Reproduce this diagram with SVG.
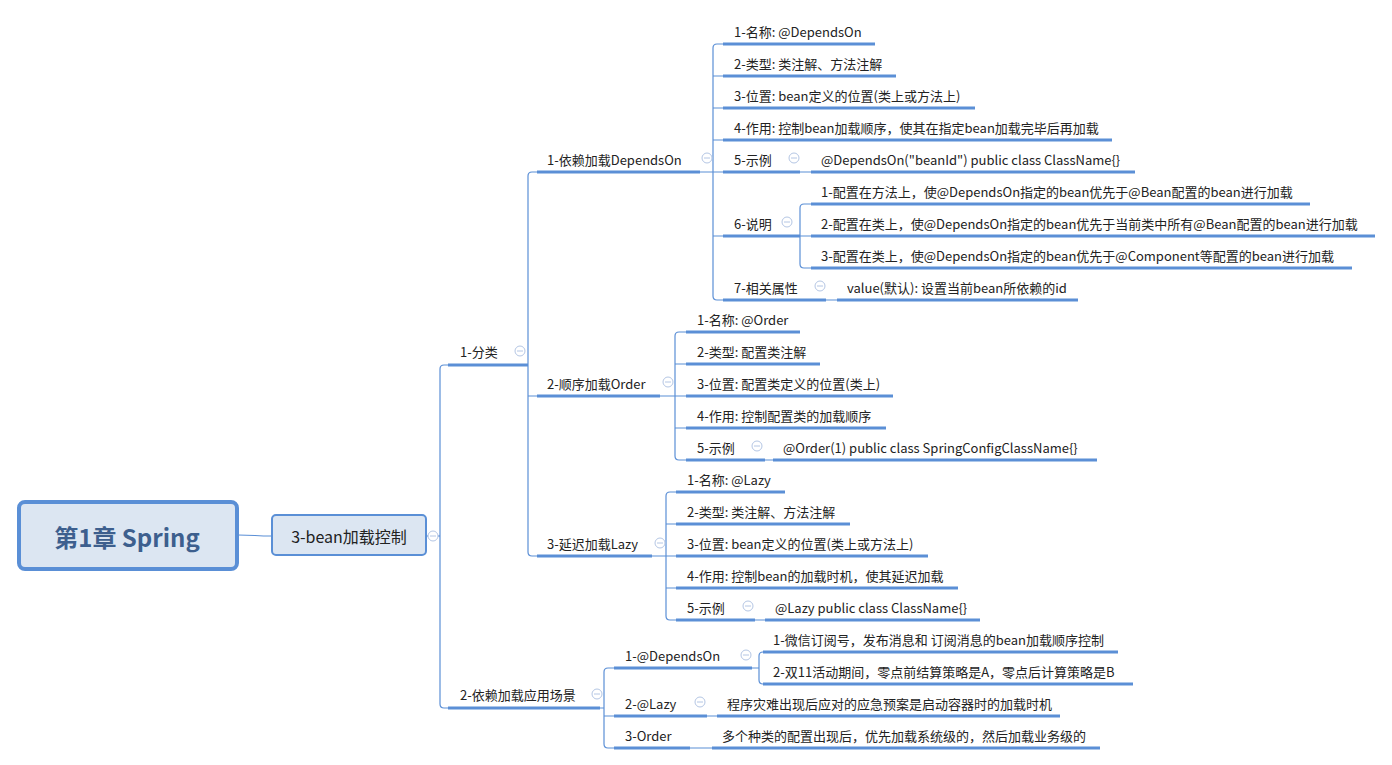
<svg xmlns="http://www.w3.org/2000/svg" width="1392" height="765" viewBox="0 0 1392 765">
<style>
text{font-family:"Microsoft YaHei","Noto Sans CJK SC","Noto Sans",sans-serif;font-size:13px;fill:#222;dominant-baseline:central}
.ul{stroke:#5b8fd6;stroke-width:3;fill:none}
.c{stroke:#5b8fd6;stroke-width:1.2;fill:none}
.col circle{fill:#fff;stroke:#b4c6e4;stroke-width:1}
.col path{stroke:#b4c6e4;stroke-width:1}
</style>
<rect width="1392" height="765" fill="#fff"/>
<g id="connectors" class="c">
<path d="M238,535 C255,535 255,536 272,536"/>
<path d="M426,536 H440"/>
<path d="M440,536 V369 Q440,365 444,365 H448 M440,536 V704 Q440,708 444,708 H448"/>
<path d="M528,365 V176 Q528,172 532,172 H537 M528,365 V396 H537 M528,365 V552 Q528,556 532,556 H537"/>
<path d="M700,172 H713 M713,172 V48 Q713,44 717,44 H723 M713,172 V76 H723 M713,172 V108 H723 M713,172 V140 H723 M713,172 H723 M713,172 V236 H723 M713,172 V296 Q713,300 717,300 H723"/>
<path d="M800,172 H811 M826,300 H837"/>
<path d="M800,236 V208 Q800,204 804,204 H811 M800,236 H811 M800,236 V264 Q800,268 804,268 H811"/>
<path d="M660,396 H675 M675,396 V336 Q675,332 679,332 H686 M675,396 V364 H686 M675,396 H686 M675,396 V428 H686 M675,396 V456 Q675,460 679,460 H686 M765,460 H773"/>
<path d="M652,556 H666 M666,556 V496 Q666,492 670,492 H676 M666,556 V524 H676 M666,556 H676 M666,556 V588 H676 M666,556 V616 Q666,620 670,620 H676 M755,620 H765"/>
<path d="M600,708 H604 M604,708 V672 Q604,668 608,668 H614 M604,708 V716 H614 M604,708 V744 Q604,748 608,748 H614"/>
<path d="M752,668 H759 M759,668 V656 Q759,652 763,652 H763 M759,668 V680 Q759,684 763,684"/>
<path d="M707,716 H717 M690,748 H712"/>
</g>
<g id="root"><rect x="19" y="502" width="218" height="67" rx="6" fill="#dce6f2" stroke="#5a8fd6" stroke-width="4"/><text x="127" y="536" text-anchor="middle" style="font-size:24px;font-weight:bold;fill:#3d5f8e">第1章 Spring</text></g>
<g id="n-main"><rect x="272" y="515" width="154" height="40" rx="4" fill="#dce6f2" stroke="#5a8fd6" stroke-width="2"/><text x="349" y="536" text-anchor="middle" style="font-size:16px">3-bean加载控制</text></g>
<g class="col">
<g><circle cx="433" cy="536" r="5"/><path d="M430,536 H436"/></g>
<g><circle cx="520" cy="351" r="5"/><path d="M517,351 H523"/></g>
<g><circle cx="597" cy="694" r="5"/><path d="M594,694 H600"/></g>
<g><circle cx="707" cy="158" r="5"/><path d="M704,158 H710"/></g>
<g><circle cx="668" cy="382" r="5"/><path d="M665,382 H671"/></g>
<g><circle cx="660" cy="543" r="5"/><path d="M657,543 H663"/></g>
<g><circle cx="794" cy="158" r="5"/><path d="M791,158 H797"/></g>
<g><circle cx="787" cy="222" r="5"/><path d="M784,222 H790"/></g>
<g><circle cx="820" cy="286" r="5"/><path d="M817,286 H823"/></g>
<g><circle cx="757" cy="446" r="5"/><path d="M754,446 H760"/></g>
<g><circle cx="748" cy="606" r="5"/><path d="M745,606 H751"/></g>
<g><circle cx="746" cy="655" r="5"/><path d="M743,655 H749"/></g>
<g><circle cx="700" cy="702" r="5"/><path d="M697,702 H703"/></g>
</g>
<g id="n-fenlei"><path class="ul" d="M448,365 H528"/><text x="460" y="351">1-分类</text></g>
<g id="n-changjing"><path class="ul" d="M448,708 H600"/><text x="460" y="694">2-依赖加载应用场景</text></g>
<g id="n-dep"><path class="ul" d="M537,172 H700"/><text x="547" y="159">1-依赖加载DependsOn</text></g>
<g id="n-order"><path class="ul" d="M537,396 H660"/><text x="547" y="383">2-顺序加载Order</text></g>
<g id="n-lazy"><path class="ul" d="M537,556 H652"/><text x="547" y="543">3-延迟加载Lazy</text></g>
<g id="d1"><path class="ul" d="M723,44 H875"/><text x="734" y="31">1-名称: @DependsOn</text></g>
<g id="d2"><path class="ul" d="M723,76 H896"/><text x="734" y="63">2-类型: 类注解、方法注解</text></g>
<g id="d3"><path class="ul" d="M723,108 H975"/><text x="734" y="95">3-位置: bean定义的位置(类上或方法上)</text></g>
<g id="d4"><path class="ul" d="M723,140 H1112"/><text x="734" y="127">4-作用: 控制bean加载顺序，使其在指定bean加载完毕后再加载</text></g>
<g id="d5"><path class="ul" d="M723,172 H800"/><text x="734" y="159">5-示例</text></g>
<g id="d5a"><path class="ul" d="M811,172 H1135"/><text x="821" y="159">@DependsOn("beanId") public class ClassName{}</text></g>
<g id="d6"><path class="ul" d="M723,236 H800"/><text x="734" y="223">6-说明</text></g>
<g id="d6a"><path class="ul" d="M811,204 H1310"/><text x="821" y="191">1-配置在方法上，使@DependsOn指定的bean优先于@Bean配置的bean进行加载</text></g>
<g id="d6b"><path class="ul" d="M811,236 H1375"/><text x="821" y="223">2-配置在类上，使@DependsOn指定的bean优先于当前类中所有@Bean配置的bean进行加载</text></g>
<g id="d6c"><path class="ul" d="M811,268 H1352"/><text x="821" y="255">3-配置在类上，使@DependsOn指定的bean优先于@Component等配置的bean进行加载</text></g>
<g id="d7"><path class="ul" d="M723,300 H826"/><text x="734" y="287">7-相关属性</text></g>
<g id="d7a"><path class="ul" d="M837,300 H1078"/><text x="847" y="287">value(默认): 设置当前bean所依赖的id</text></g>
<g id="o1"><path class="ul" d="M686,332 H800"/><text x="697" y="319">1-名称: @Order</text></g>
<g id="o2"><path class="ul" d="M686,364 H820"/><text x="697" y="351">2-类型: 配置类注解</text></g>
<g id="o3"><path class="ul" d="M686,396 H893"/><text x="697" y="383">3-位置: 配置类定义的位置(类上)</text></g>
<g id="o4"><path class="ul" d="M686,428 H886"/><text x="697" y="415">4-作用: 控制配置类的加载顺序</text></g>
<g id="o5"><path class="ul" d="M686,460 H765"/><text x="697" y="447">5-示例</text></g>
<g id="o5a"><path class="ul" d="M773,460 H1097"/><text x="783" y="447">@Order(1) public class SpringConfigClassName{}</text></g>
<g id="l1"><path class="ul" d="M676,492 H785"/><text x="687" y="479">1-名称: @Lazy</text></g>
<g id="l2"><path class="ul" d="M676,524 H850"/><text x="687" y="511">2-类型: 类注解、方法注解</text></g>
<g id="l3"><path class="ul" d="M676,556 H928"/><text x="687" y="543">3-位置: bean定义的位置(类上或方法上)</text></g>
<g id="l4"><path class="ul" d="M676,588 H958"/><text x="687" y="575">4-作用: 控制bean的加载时机，使其延迟加载</text></g>
<g id="l5"><path class="ul" d="M676,620 H755"/><text x="687" y="607">5-示例</text></g>
<g id="l5a"><path class="ul" d="M765,620 H980"/><text x="775" y="607">@Lazy public class ClassName{}</text></g>
<g id="s1"><path class="ul" d="M614,668 H752"/><text x="625" y="655">1-@DependsOn</text></g>
<g id="s1a"><path class="ul" d="M763,652 H1118"/><text x="773" y="639">1-微信订阅号，发布消息和 订阅消息的bean加载顺序控制</text></g>
<g id="s1b"><path class="ul" d="M763,684 H1133"/><text x="773" y="671">2-双11活动期间，零点前结算策略是A，零点后计算策略是B</text></g>
<g id="s2"><path class="ul" d="M614,716 H707"/><text x="625" y="703">2-@Lazy</text></g>
<g id="s2a"><path class="ul" d="M717,716 H1060"/><text x="727" y="703">程序灾难出现后应对的应急预案是启动容器时的加载时机</text></g>
<g id="s3"><path class="ul" d="M614,748 H690"/><text x="625" y="735">3-Order</text></g>
<g id="s3a"><path class="ul" d="M712,748 H1100"/><text x="722" y="735">多个种类的配置出现后，优先加载系统级的，然后加载业务级的</text></g>
</svg>
